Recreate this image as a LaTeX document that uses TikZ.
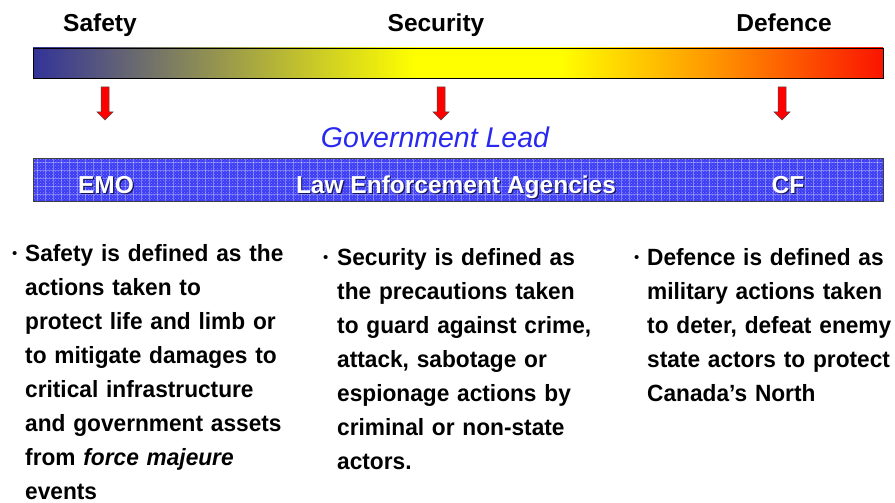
\documentclass[tikz,border=0pt]{standalone}
\usepackage{fontspec}
\setmainfont{Liberation Sans}
\newfontfamily\condsans[FakeStretch=0.965]{Liberation Sans}
\usetikzlibrary{patterns}
\definecolor{barblue}{RGB}{51,51,153}
\definecolor{baryel}{RGB}{255,255,0}
\definecolor{barora}{RGB}{255,150,0}
\definecolor{barred}{RGB}{250,20,0}
\definecolor{boxblue}{RGB}{60,60,245}
\definecolor{leadblue}{RGB}{40,40,240}
\definecolor{shadowblue}{RGB}{20,20,90}
\pgfdeclarehorizontalshading{spectrum}{100bp}{color(0bp)=(barblue); color(25bp)=(barblue); color(47.5bp)=(baryel); color(56bp)=(baryel); color(65bp)=(barora); color(75bp)=(barred); color(100bp)=(barred)}
\tikzset{
  header/.style={font=\bfseries\fontsize{24.5}{28}\selectfont, anchor=base, inner sep=0pt},
  boxlabel/.style={font=\bfseries\fontsize{24.5}{28}\selectfont, text=white, anchor=base, inner sep=0pt},
  boxshadow/.style={font=\bfseries\fontsize{24.5}{28}\selectfont, text=shadowblue, anchor=base, inner sep=0pt},
  bullettext/.style={font=\condsans\bfseries\fontsize{23.5}{34}\selectfont, anchor=base west, inner sep=0pt, text width=300pt, align=left},
  bulletdot/.style={font=\fontsize{15}{18}\selectfont, anchor=base west, inner sep=0pt},
  redarrow/.style={fill=red, draw=black!70, line width=0.5pt, line join=miter},
}
\begin{document}
\begin{tikzpicture}[x=1pt,y=-1pt]
\useasboundingbox (0,0) rectangle (895,503);
% headers
\node[header] (hsafety) at (100,32) {Safety};
\node[header] (hsecurity) at (436,32) {Security};
\node[header] (hdefence) at (784,32) {Defence};
% gradient bar
\path[shading=spectrum, draw=black, line width=0.8pt] (33,48) rectangle (883,78);
\node[inner sep=0pt, minimum width=850pt, minimum height=30pt] (bar) at (458,63) {};
% arrows
\foreach \ax in {105,441,782}{
  \draw[redarrow] (\ax-4,87) -- (\ax+4,87) -- (\ax+4,112) -- (\ax+8,112) -- (\ax,120) -- (\ax-8,112) -- (\ax-4,112) -- cycle;
}
% government lead
\node[font=\itshape\fontsize{28.5}{32}\selectfont, text=leadblue, anchor=base, inner sep=0pt] (lead) at (435,147) {Government Lead};
% agency box
\path[fill=boxblue] (33,158) rectangle (883,201);
\path[pattern=crosshatch dots, pattern color=white!80!blue, opacity=0.5] (33,158) rectangle (883,201);
\begin{scope}
\clip (33,158) rectangle (883,201);
\foreach \gx in {37,45,...,883} {\draw[white, opacity=0.3, line width=1pt] (\gx,158) -- (\gx,201);}
\foreach \gy in {162,170,...,201} {\draw[white, opacity=0.3, line width=1pt] (33,\gy) -- (883,\gy);}
\end{scope}
\draw[black!75, line width=0.8pt] (33,158) rectangle (883,201);
\node[inner sep=0pt, minimum width=850pt, minimum height=43pt] (agencybox) at (458,179.5) {};
\node[boxshadow] at (107.2,194.2) {EMO};
\node[boxshadow] at (457.2,194.2) {Law Enforcement Agencies};
\node[boxshadow] at (789.2,194.2) {CF};
\node[boxlabel] (emo) at (106,193) {EMO};
\node[boxlabel] (lea) at (456,193) {Law Enforcement Agencies};
\node[boxlabel] (cf) at (788,193) {CF};
% bullets
\node[bulletdot] (b1) at (12,258) {•};
\node[bullettext] (t1) at (25,261) {Safety is defined as the\\actions taken to\\protect life and limb or\\to mitigate damages to\\critical infrastructure\\and government assets\\from \textit{force majeure}\\events};
\node[bulletdot] (b2) at (323,262) {•};
\node[bullettext] (t2) at (337,265) {Security is defined as\\the precautions taken\\to guard against crime,\\attack, sabotage or\\espionage actions by\\criminal or non-state\\actors.};
\node[bulletdot] (b3) at (634,262) {•};
\node[bullettext, text width=245pt] (t3) at (647,265) {Defence is defined as\\military actions taken\\to deter, defeat enemy\\state actors to protect\\Canada’s North};
\end{tikzpicture}
\end{document}
